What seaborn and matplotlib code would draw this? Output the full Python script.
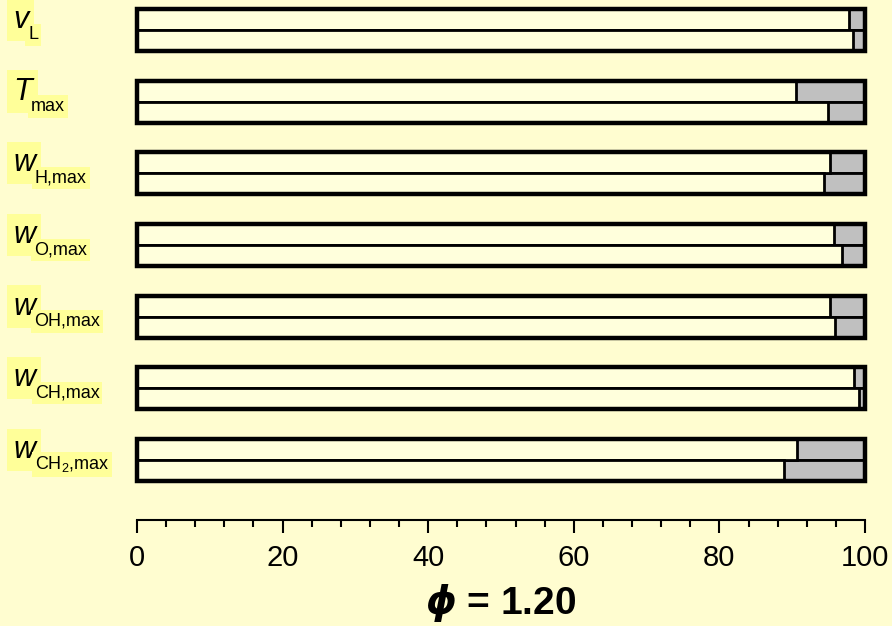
import matplotlib
matplotlib.use("Agg")
import matplotlib.pyplot as plt
import matplotlib.transforms as mtransforms
from matplotlib.ticker import MultipleLocator
import seaborn as sns
import pandas as pd

# ---- data ----
params = ["vL", "Tmax", "wH", "wO", "wOH", "wCH", "wCH2"]
main_symbols = ["v", "T", "w", "w", "w", "w", "w"]
sub_labels = ["L", "max", "H,max", "O,max", "OH,max", "CH,max", "CH$_2$,max"]
series_a = [97.8, 90.5, 95.2, 95.8, 95.2, 98.5, 90.7]   # top bar of each pair
series_b = [98.3, 94.9, 94.3, 96.8, 95.9, 99.2, 88.9]   # bottom bar of each pair
full_value = 100
x_ticks = [0, 20, 40, 60, 80, 100]
title_text = r"$\boldsymbol{\phi}$ = 1.20"

BG = "#FFFDD0"
CREAM = "#FFFFDC"
GREY = "#C0C0C0"
HILITE = "#FFFF99"

sns.set_theme(style="white")
plt.rcParams["font.family"] = ["Liberation Sans", "DejaVu Sans"]
plt.rcParams["mathtext.fontset"] = "custom"
plt.rcParams["mathtext.rm"] = "Liberation Sans"
plt.rcParams["mathtext.it"] = "Liberation Sans:italic"
plt.rcParams["mathtext.bf"] = "Liberation Sans:bold"
plt.rcParams["mathtext.default"] = "regular"
plt.rcParams["text.color"] = "black"
plt.rcParams["axes.labelcolor"] = "black"
plt.rcParams["xtick.color"] = "black"

df = pd.DataFrame({
    "param": params * 2,
    "series": ["a"] * len(params) + ["b"] * len(params),
    "value": series_a + series_b,
})
df["full"] = full_value
df_frame = pd.DataFrame({"param": params, "full": [full_value] * len(params)})

fig = plt.figure(figsize=(8.92, 6.26), dpi=100, facecolor=BG)
W, H = 892, 626
ax = fig.add_axes([137 / W, (H - 520) / H, (865 - 137) / W, (520 - 9) / H])
ax.set_facecolor(BG)

BW = 0.586
sns.barplot(data=df, x="full", y="param", hue="series", orient="h", dodge=True,
            width=BW, palette=[GREY, GREY], saturation=1, edgecolor="black",
            linewidth=2.0, legend=False, errorbar=None, ax=ax)
sns.barplot(data=df, x="value", y="param", hue="series", orient="h", dodge=True,
            width=BW, palette=[CREAM, CREAM], saturation=1, edgecolor="black",
            linewidth=2.0, legend=False, errorbar=None, ax=ax)
sns.barplot(data=df_frame, x="full", y="param", orient="h", width=BW,
            color="none", fill=False, edgecolor="black", linewidth=3.2,
            errorbar=None, ax=ax)
for p in ax.patches:
    p.set_clip_on(False)
    p.set_joinstyle("miter")

ax.set_xlim(0, 100)
ax.set_ylim(len(params) - 1 + 0.837, -BW / 2)
for s in ["left", "top", "right"]:
    ax.spines[s].set_visible(False)
ax.spines["bottom"].set_linewidth(1.5)
ax.spines["bottom"].set_color("black")
ax.spines["bottom"].set_bounds(0, 100)
ax.set_yticks([])
ax.set_ylabel("")
ax.set_xticks(x_ticks)
ax.xaxis.set_minor_locator(MultipleLocator(4))
ax.tick_params(axis="x", which="major", direction="out", length=9, width=1.5,
               color="black", labelcolor="black", labelsize=21, pad=8, bottom=True)
ax.tick_params(axis="x", which="minor", direction="out", length=5, width=1.5,
               color="black", bottom=True)
ax.set_xlabel(title_text, fontsize=28, fontweight="bold", labelpad=8, color="black")

# left labels with highlight
trans = mtransforms.blended_transform_factory(fig.transFigure, ax.transData)
bb_main = dict(boxstyle="square,pad=0.2", fc=HILITE, ec="none")
bb_sub = dict(boxstyle="square,pad=0.15", fc=HILITE, ec="none")
sub_x = [28, 31, 35, 34, 34, 35, 35]
for i, (m, s) in enumerate(zip(main_symbols, sub_labels)):
    ax.text(13 / W, i - 0.03, m, transform=trans, fontsize=22, style="italic",
            va="baseline", ha="left", bbox=bb_main, clip_on=False, color="black")
    ax.text(sub_x[i] / W, i + 0.13, s, transform=trans, fontsize=13,
            va="baseline", ha="left", bbox=bb_sub, clip_on=False, color="black")

fig.savefig("out.png", dpi=100, facecolor=BG)
